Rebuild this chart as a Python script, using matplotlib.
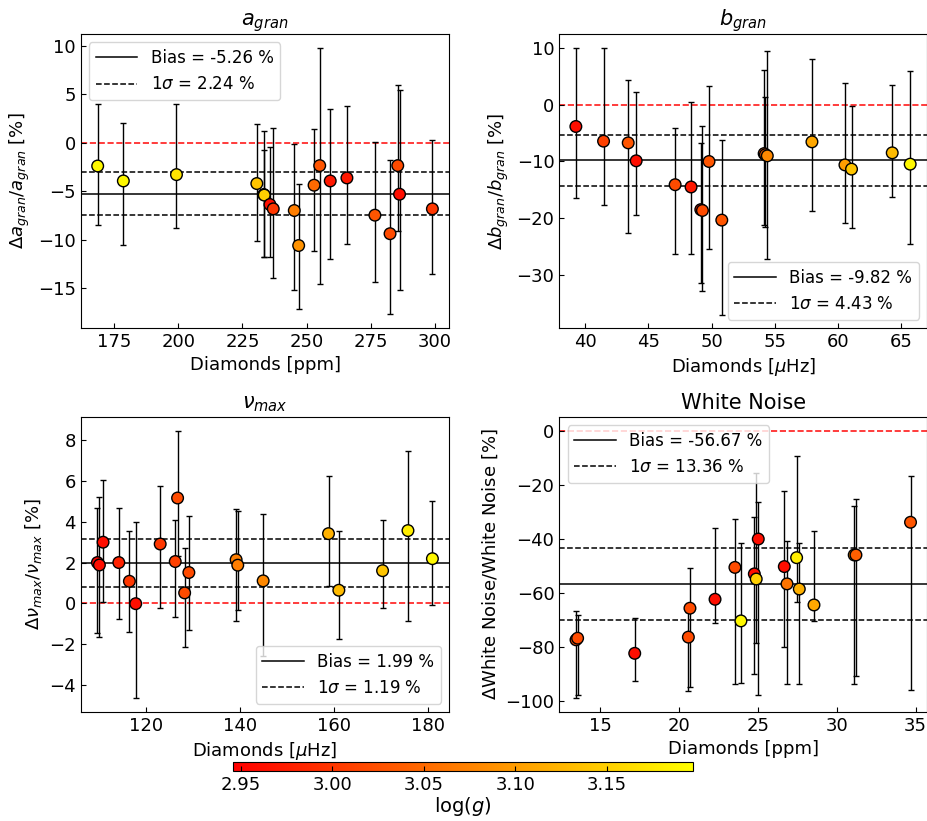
import numpy as np
import matplotlib
matplotlib.use("Agg")
import matplotlib.pyplot as plt
import matplotlib.colors as colors
import matplotlib.cm as cmx

# a_gran panel
a_x = [168.6, 178.6, 199.3, 230.6, 233.3, 233.5, 235.7, 237.0, 245.2, 246.9,
       252.9, 255.1, 259.2, 265.7, 276.6, 282.5, 285.5, 286.2, 299.0]
a_y = [-2.40, -3.94, -3.29, -4.21, -5.34, -5.40, -6.37, -6.82, -6.99, -10.6,
       -4.38, -2.36, -3.94, -3.63, -7.47, -9.38, -2.36, -5.31, -6.82]
a_hi = [3.94, 2.05, 3.97, 1.92, 1.23, -0.72, -0.41, 1.54, -0.10, -4.30,
        1.37, 9.76, 3.49, 3.80, 0.10, -1.80, 5.92, 5.48, 0.27]
a_lo = [-8.49, -10.58, -8.80, -10.1, -11.8, -11.8, -11.75, -13.9, -15.2, -17.1,
        -11.2, -14.55, -12.0, -10.45, -14.4, -17.7, -9.14, -15.2, -13.5]
a_logg = [3.19, 3.19, 3.17, 3.14, 3.15, 3.15, 2.96, 3.00, 3.07, 3.09,
          3.05, 3.03, 2.97, 2.97, 3.03, 3.02, 3.02, 2.96, 3.00]

# b_gran panel
b_x = [39.26, 41.45, 43.40, 44.03, 47.11, 48.37, 49.14, 49.27, 49.79, 50.80,
       54.15, 54.25, 54.40, 57.93, 60.54, 61.06, 64.28, 65.70]
b_y = [-3.82, -6.41, -6.71, -9.88, -14.1, -14.5, -18.5, -18.65, -10.0, -20.35,
       -8.6, -8.8, -9.0, -6.53, -10.6, -11.35, -8.47, -10.47]
b_hi = [10.0, 10.0, 4.35, 2.24, -4.06, 0.47, -6.65, -3.65, 3.3, -6.2,
        6.1, 1.4, 9.5, 8.18, 3.94, -0.12, 3.47, 6.06]
b_lo = [-16.5, -17.6, -22.6, -19.5, -26.4, -26.4, -31.4, -32.8, -25.4, -37.1,
        -21.2, -21.5, -27.2, -18.8, -20.8, -21.8, -16.35, -24.5]
b_logg = [2.96, 3.01, 3.03, 2.96, 3.02, 2.97, 2.97, 3.02, 3.03, 3.03,
          3.04, 3.04, 3.08, 3.11, 3.10, 3.14, 3.13, 3.19]

# nu_max panel
n_x = [109.65, 110.07, 110.85, 114.2, 116.45, 117.8, 123.0, 126.2, 126.7, 128.2,
       129.1, 139.15, 139.5, 144.9, 158.8, 161.0, 170.3, 175.7, 180.9]
n_y = [2.00, 1.88, 3.00, 2.00, 1.08, -0.02, 2.91, 2.05, 5.17, 0.51,
       1.51, 2.14, 1.87, 1.10, 3.42, 0.64, 1.60, 3.57, 2.19]
n_hi = [4.68, 5.20, 6.07, 4.70, 3.54, 4.00, 5.76, 4.10, 8.48, 2.73,
        4.29, 4.62, 4.53, 4.40, 6.24, 3.55, 4.08, 7.46, 5.02]
n_lo = [-1.44, -1.67, 0.07, -0.75, -1.41, -4.66, -0.21, -0.67, 2.34, -2.13,
        -1.31, -0.87, -0.34, -2.57, 0.85, -1.75, -0.25, -0.85, -0.08]
n_logg = [2.95, 2.96, 2.96, 2.98, 3.00, 2.96, 3.00, 3.01, 3.02, 3.02,
          3.02, 3.07, 3.07, 3.08, 3.12, 3.13, 3.14, 3.18, 3.19]

# white noise panel
w_x = [13.48, 13.58, 17.2, 20.6, 20.7, 22.29, 23.55, 23.93, 24.78, 24.9,
       25.03, 26.68, 26.85, 27.46, 27.63, 28.56, 31.11, 31.22, 34.68]
w_y = [-77.4, -76.8, -82.4, -76.4, -65.7, -62.4, -50.6, -70.4, -53.0, -54.9,
       -40.1, -50.3, -56.7, -47.0, -58.6, -64.5, -46.0, -46.0, -33.9]
w_hi = [-66.6, -68.2, -69.3, -67.1, -51.0, -36.0, -32.7, -41.4, -31.9, -15.7,
        -26.5, -22.3, -40.7, -9.5, -41.7, -37.1, -27.9, -25.2, -16.9]
w_lo = [-99.1, -97.9, -92.6, -96.2, -94.9, -71.3, -93.8, -93.5, -90.1, -78.4,
        -97.7, -80.0, -93.7, -63.5, -93.6, -70.3, -93.6, -90.9, -95.9]
w_logg = [3.02, 3.02, 2.96, 3.02, 3.02, 2.96, 3.02, 3.19, 2.96, 3.15,
          2.96, 2.96, 3.06, 3.18, 3.12, 3.11, 3.09, 3.04, 3.03]

bias = [-5.26, -9.82, 1.99, -56.67]
sigma = [2.24, 4.43, 1.19, 13.36]

titles = [r'$a_{gran}$', r'$b_{gran}$', r'$\nu_{max}$', 'White Noise']
ylabels = [r'$\Delta a_{gran}/a_{gran}$ [%]', r'$\Delta b_{gran}/b_{gran}$ [%]',
           r'$\Delta \nu_{max}/\nu_{max}$ [%]', r'$\Delta$White Noise/White Noise [%]']
xlabels = ['Diamonds [ppm]', r'Diamonds [$\mu$Hz]', r'Diamonds [$\mu$Hz]', 'Diamonds [ppm]']
legend_loc = ['upper left', 'lower right', 'lower right', 'upper left']

cm = plt.get_cmap('autumn')
cNorm = colors.Normalize(vmin=2.946, vmax=3.197)

fig = plt.figure(figsize=(9.28, 8.21), dpi=100)
positions = [[0.087, 0.6005, 0.3972, 0.358],
             [0.6027, 0.6005, 0.3965, 0.358],
             [0.087, 0.1328, 0.3972, 0.3593],
             [0.6027, 0.1328, 0.3965, 0.3593]]

panels = [(a_x, a_y, a_hi, a_lo, a_logg),
          (b_x, b_y, b_hi, b_lo, b_logg),
          (n_x, n_y, n_hi, n_lo, n_logg),
          (w_x, w_y, w_hi, w_lo, w_logg)]

for i, (x, y, hi, lo, g) in enumerate(panels):
    ax = fig.add_axes(positions[i])
    x = np.array(x)
    y = np.array(y)
    yerr = [y - np.array(lo), np.array(hi) - y]
    ax.errorbar(x, y, yerr=yerr, fmt='none', ecolor='k', elinewidth=1,
                capsize=2.5, zorder=1)
    ax.axhline(0, color='#ff1a1a', ls='--', lw=1.2, zorder=0)
    l1 = ax.axhline(bias[i], color='k', lw=1.1, zorder=2)
    l2 = ax.axhline(bias[i] + sigma[i], color='k', ls='--', lw=1.1, zorder=2)
    ax.axhline(bias[i] - sigma[i], color='k', ls='--', lw=1.1, zorder=2)
    ax.scatter(x, y, c=g, cmap=cm, norm=cNorm, s=70, edgecolors='k',
               linewidths=1, zorder=3)
    ax.legend([l1, l2], ['Bias = %.2f %%' % bias[i], r'1$\sigma$ = %.2f %%' % sigma[i]],
              loc=legend_loc[i], fontsize=12, handlelength=2.5)
    ax.set_title(titles[i], fontsize=15)
    ax.set_ylabel(ylabels[i], fontsize=13)
    ax.set_xlabel(xlabels[i], fontsize=13)
    ax.tick_params(direction='in', labelsize=13)

fig.axes[0].set_xlim(162.0, 305.6)
fig.axes[0].set_ylim(-19.1, 11.2)
fig.axes[0].set_xticks([175, 200, 225, 250, 275, 300])
fig.axes[1].set_xlim(37.95, 67.05)
fig.axes[1].set_ylim(-39.4, 12.5)
fig.axes[2].set_xlim(106.1, 184.5)
fig.axes[2].set_ylim(-5.34, 9.15)
fig.axes[3].set_xlim(12.42, 35.74)
fig.axes[3].set_ylim(-104.1, 5.06)

cax = fig.add_axes([0.2514, 0.0609, 0.4954, 0.011])
sm = cmx.ScalarMappable(norm=cNorm, cmap=cm)
cb = fig.colorbar(sm, cax=cax, orientation='horizontal')
cb.set_ticks([2.95, 3.00, 3.05, 3.10, 3.15])
cb.ax.tick_params(direction='in', labelsize=13)
cb.set_label(r'log($g$)', fontsize=14, labelpad=1)

plt.savefig('out.png', dpi=100)
